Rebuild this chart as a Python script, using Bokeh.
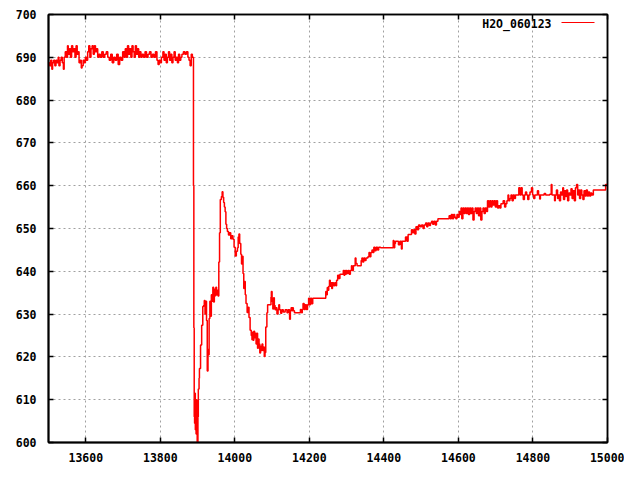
from bokeh.plotting import figure
from bokeh.models import (LinearAxis, SingleIntervalTicker, Label, Arrow, CustomJSTickFormatter)
from bokeh.embed import file_html
from bokeh.resources import INLINE

# ---- data ----
x_plateau = [13500, 13503, 13506, 13509, 13511, 13514, 13517, 13520, 13523, 13526, 13528, 13531, 13534, 13537,
             13540, 13542, 13545, 13548, 13551, 13553, 13556, 13559, 13562, 13565, 13568, 13571, 13574, 13577,
             13580, 13582, 13585, 13588, 13590, 13593, 13596, 13599, 13602, 13605, 13608, 13611, 13614, 13617,
             13620, 13623, 13626, 13629, 13632, 13635, 13639, 13643, 13647, 13651, 13655, 13659, 13663, 13667,
             13671, 13675, 13679, 13683, 13687, 13691, 13695, 13699, 13703, 13706, 13709, 13712, 13715, 13718,
             13721, 13724, 13727, 13730, 13733, 13736, 13739, 13742, 13745, 13748, 13751, 13755, 13759, 13763,
             13767, 13771, 13775, 13779, 13783, 13787, 13791, 13794, 13797, 13800, 13803, 13807, 13810, 13813,
             13816, 13819, 13822, 13825, 13828, 13831, 13834, 13837, 13840, 13843, 13846, 13849, 13852, 13855,
             13858, 13862, 13866, 13870, 13874, 13877, 13880, 13883, 13886]
y_plateau = [688.7, 688.0, 689.3, 687.2, 688.7, 689.3, 688.0, 689.3, 688.7, 690.0, 688.0, 689.3, 690.0, 688.7,
             687.2, 690.0, 691.3, 690.0, 692.7, 690.7, 692.0, 690.0, 692.7, 691.3, 692.0, 690.0, 692.7, 690.7,
             691.3, 688.7, 689.3, 687.5, 688.0, 689.3, 688.7, 690.0, 689.3, 691.3, 692.7, 690.0, 692.0, 692.7,
             690.7, 692.7, 691.3, 692.0, 690.0, 690.7, 690.0, 691.3, 690.0, 690.7, 691.3, 690.0, 689.3, 690.7,
             688.7, 690.0, 689.3, 690.7, 688.3, 690.0, 689.3, 691.3, 690.0, 692.0, 690.0, 692.7, 690.7, 692.0,
             690.0, 692.7, 691.3, 690.0, 692.7, 690.7, 692.0, 690.0, 691.3, 690.0, 690.7, 690.0, 691.3, 690.0,
             690.7, 691.3, 690.0, 690.7, 690.0, 691.3, 689.3, 688.3, 689.3, 688.7, 690.0, 691.3, 689.3, 690.7,
             688.7, 690.0, 691.3, 689.3, 690.7, 688.7, 690.0, 691.3, 689.3, 690.0, 688.7, 690.7, 689.3, 690.0,
             690.7, 691.3, 690.7, 691.3, 690.0, 689.3, 688.0, 690.7, 690.0]

x_drop = [13889, 13890, 13891, 13892, 13893, 13894, 13895, 13896, 13897, 13898, 13899, 13901, 13902, 13904,
          13905, 13908, 13911, 13914, 13916, 13918, 13920, 13922, 13924, 13926, 13928, 13930, 13931, 13933,
          13935, 13937, 13939, 13941, 13943, 13945, 13947, 13949, 13951, 13953, 13955, 13957, 13959, 13961,
          13964, 13966, 13968, 13970, 13972, 13974, 13976, 13978, 13980, 13983, 13986, 13989, 13992, 13995,
          13998, 14001, 14004, 14007, 14009, 14011, 14013, 14016, 14018, 14020, 14022, 14024, 14026, 14028,
          14030, 14033, 14036, 14038, 14041, 14044, 14046, 14048, 14049, 14051, 14053, 14055, 14057, 14059,
          14061, 14063, 14065, 14067, 14069, 14071, 14073, 14075, 14077, 14079, 14081]
y_drop = [660.0, 626.8, 606.0, 604.5, 611.5, 603.0, 608.0, 602.0, 610.0, 604.5, 600.0, 606.0, 612.5, 615.0,
          617.3, 622.8, 627.4, 631.8, 632.0, 633.2, 630.0, 633.0, 628.5, 616.7, 621.7, 620.5, 629.0, 633.0,
          629.5, 634.5, 633.0, 636.3, 632.8, 635.8, 634.3, 636.3, 634.5, 635.6, 634.2, 642.2, 649.0, 656.8,
          657.5, 658.6, 657.3, 656.1, 655.0, 653.9, 651.0, 650.0, 649.3, 648.5, 649.0, 647.6, 648.3, 647.5,
          645.6, 643.6, 644.7, 645.5, 648.0, 648.7, 646.5, 644.0, 641.7, 643.5, 639.5, 636.0, 637.6, 634.5,
          632.5, 630.4, 631.6, 629.2, 626.2, 625.0, 624.0, 625.8, 623.9, 626.0, 624.5, 625.5, 623.0, 625.5,
          622.0, 624.2, 623.0, 620.9, 622.5, 621.5, 623.0, 621.5, 622.3, 620.1, 621.0]

x_recovery = [14083, 14086, 14088, 14092, 14095, 14097, 14098, 14100, 14102, 14104, 14106, 14108, 14111, 14113,
              14116, 14118, 14120, 14123, 14126, 14130, 14135, 14140, 14143, 14147, 14149, 14151, 14153, 14155,
              14157, 14160, 14170, 14176, 14179, 14181, 14183, 14186, 14189, 14192, 14195, 14198, 14200, 14203,
              14206, 14209, 14212, 14244, 14246, 14248, 14250, 14252, 14254, 14256, 14258, 14260, 14262, 14265,
              14268, 14271, 14273, 14276, 14279, 14282, 14289, 14291, 14293, 14295, 14297, 14299, 14301, 14304,
              14307, 14310, 14313, 14315, 14318, 14321, 14323, 14325, 14328, 14333, 14339, 14341, 14343, 14346,
              14349, 14352, 14357, 14360, 14362, 14365, 14368, 14370, 14373, 14376, 14379, 14383, 14386, 14391,
              14423, 14425, 14427, 14429, 14431, 14436, 14439, 14443, 14447, 14449, 14454, 14458, 14462, 14465,
              14470, 14474, 14477, 14480, 14483, 14486, 14490, 14493, 14497, 14501, 14505, 14508, 14512, 14515,
              14518, 14522, 14525, 14528, 14531, 14534, 14538, 14541, 14545, 14557]
y_recovery = [627.0, 630.3, 632.2, 632.2, 632.2, 634.0, 635.3, 633.0, 631.2, 633.8, 632.0, 631.0, 631.5, 630.0,
              631.0, 632.2, 631.0, 630.2, 631.0, 630.5, 631.0, 630.3, 631.0, 628.8, 630.8, 631.5, 630.8, 631.5,
              630.8, 630.3, 630.3, 631.1, 630.3, 631.1, 632.5, 631.1, 632.2, 631.1, 632.2, 633.7, 632.2, 633.7,
              632.4, 633.7, 633.7, 635.3, 634.5, 636.2, 635.6, 636.5, 637.9, 636.5, 637.3, 636.0, 637.3, 636.6,
              637.3, 636.6, 637.9, 639.1, 638.3, 639.3, 639.3, 640.2, 639.1, 640.2, 639.3, 640.2, 639.5, 640.2,
              639.3, 640.2, 641.3, 640.2, 641.3, 641.3, 643.1, 641.8, 641.3, 641.3, 642.5, 643.1, 642.2, 643.1,
              642.5, 643.1, 643.4, 644.4, 643.4, 644.4, 645.0, 644.4, 645.6, 644.8, 645.6, 645.0, 645.6, 645.5,
              645.5, 647.2, 645.5, 646.5, 647.0, 647.0, 646.2, 647.0, 645.2, 647.0, 647.0, 648.0, 647.0, 648.6,
              648.6, 649.7, 649.0, 649.7, 648.7, 650.4, 649.7, 650.8, 650.4, 650.8, 650.0, 650.8, 651.3, 650.4,
              651.3, 650.7, 651.3, 651.7, 651.0, 651.7, 650.8, 651.7, 652.3, 652.3]

x_late = [14568, 14572, 14575, 14578, 14581, 14584, 14587, 14590, 14593, 14596, 14599, 14602, 14605, 14607,
          14609, 14612, 14615, 14618, 14621, 14624, 14627, 14630, 14633, 14636, 14639, 14642, 14645, 14648,
          14651, 14654, 14657, 14660, 14663, 14666, 14669, 14672, 14675, 14678, 14681, 14684, 14687, 14690,
          14693, 14696, 14699, 14702, 14705, 14708, 14711, 14714, 14717, 14720, 14724, 14727, 14730, 14733,
          14735, 14738, 14741, 14744, 14747, 14750, 14753, 14756, 14760, 14762, 14765, 14768, 14771, 14774,
          14777, 14780, 14783, 14786, 14789, 14792, 14796, 14799, 14802, 14805, 14810, 14812, 14815, 14818,
          14820, 14825, 14830, 14834, 14840, 14845, 14849, 14851, 14855, 14858, 14860, 14863, 14866, 14868,
          14871, 14874, 14877, 14880, 14882, 14885, 14888, 14890, 14893, 14896, 14899, 14902, 14905, 14908,
          14911, 14914, 14917, 14920, 14922, 14925, 14928, 14931, 14934, 14937, 14940, 14943, 14946, 14949,
          14952, 14955, 14958, 14962, 14970, 14980, 14993, 14995, 15000]
y_late = [652.3, 652.3, 653.0, 652.3, 653.3, 652.3, 653.3, 652.6, 652.3, 653.3, 652.6, 654.0, 653.3, 654.8,
          652.3, 654.8, 653.5, 654.8, 653.5, 654.8, 653.3, 654.8, 653.5, 654.8, 652.0, 654.0, 654.8, 653.5,
          654.8, 653.0, 654.8, 652.0, 654.0, 654.8, 653.5, 654.8, 654.0, 656.5, 655.0, 656.5, 655.0, 656.5,
          655.5, 656.5, 655.0, 656.5, 654.8, 655.3, 654.8, 655.8, 655.8, 656.5, 655.0, 655.8, 656.5, 657.8,
          656.5, 657.0, 657.8, 656.5, 657.8, 657.0, 657.8, 657.8, 657.8, 659.5, 657.8, 659.5, 657.8, 656.8,
          657.8, 658.5, 657.8, 656.8, 657.8, 658.5, 659.5, 657.8, 657.0, 657.8, 657.8, 658.8, 657.8, 656.9,
          657.8, 657.8, 658.2, 657.8, 657.8, 658.0, 660.3, 657.8, 657.8, 656.5, 657.8, 659.0, 657.0, 657.8,
          656.5, 658.5, 657.8, 659.5, 656.8, 658.8, 657.5, 659.0, 656.5, 658.3, 657.8, 659.3, 657.0, 658.8,
          656.5, 659.5, 660.3, 657.8, 659.0, 657.0, 659.0, 657.8, 656.8, 658.8, 657.6, 659.0, 657.6, 658.5,
          657.6, 658.3, 657.8, 659.0, 659.0, 659.0, 659.0, 660.3, 660.3]

series_label = "H2O_060123"
x_start, x_end = 13500, 15000
y_start, y_end = 600, 700

xs = x_plateau + x_drop + x_recovery + x_late
ys = y_plateau + y_drop + y_recovery + y_late

FONT = "DejaVu Sans Mono"
W, H = 624, 464
BL, BR, BT, BB = 48, 17, 14, 19
FW, FH = W - BL - BR, H - BT - BB

p = figure(width=W, height=H, x_range=(x_start, x_end), y_range=(y_start, y_end),
           output_backend="svg", toolbar_location=None,
           min_border_left=BL, min_border_right=BR, min_border_top=BT, min_border_bottom=BB,
           background_fill_color="white", border_fill_color="white")

p.step(xs, ys, mode="after", line_color="#ff0000", line_width=1.5)

xt = SingleIntervalTicker(interval=200)
yt = SingleIntervalTicker(interval=10)
p.xaxis.ticker = xt
p.yaxis.ticker = yt
p.xgrid.ticker = xt
p.ygrid.ticker = yt

for ax in (p.xaxis[0], p.yaxis[0]):
    ax.major_tick_in = 5
    ax.major_tick_out = 0
    ax.minor_tick_line_color = None
    ax.axis_line_color = "black"
    ax.axis_line_width = 2
    ax.major_tick_line_color = "black"
    ax.major_tick_line_width = 1.5
    ax.major_label_text_font = FONT
    ax.major_label_text_font_style = "bold"
    ax.major_label_text_font_size = "11.5px"
    ax.major_label_text_color = "black"
p.xaxis.major_label_standoff = 6
p.yaxis.major_label_standoff = 8

for side, tk in (("above", SingleIntervalTicker(interval=200)), ("right", SingleIntervalTicker(interval=10))):
    ax = LinearAxis(ticker=tk, major_tick_in=5, major_tick_out=0, minor_tick_line_color=None,
                    formatter=CustomJSTickFormatter(code="return ''"),
                    major_label_standoff=0, major_tick_line_width=1.5,
                    axis_line_color="black", axis_line_width=1.5)
    p.add_layout(ax, side)

p.grid.grid_line_color = "#a0a0a0"
p.grid.grid_line_dash = "2 3"
p.grid.grid_line_width = 1
p.outline_line_color = "black"
p.outline_line_width = 1.5

# gnuplot-style key: label left of the sample line (screen units from frame bottom-left)
p.add_layout(Label(x=FW - 56, y=FH - 12, x_units="screen", y_units="screen", text=series_label,
                   text_font=FONT, text_font_style="bold", text_font_size="11.5px", text_color="black",
                   text_align="right", text_baseline="middle"))
p.add_layout(Arrow(x_start=FW - 46, y_start=FH - 11, x_end=FW - 13, y_end=FH - 11,
                   start_units="screen", end_units="screen",
                   start=None, end=None, line_color="#ff0000", line_width=1))

open("out.html", "w").write(file_html(p, INLINE))
